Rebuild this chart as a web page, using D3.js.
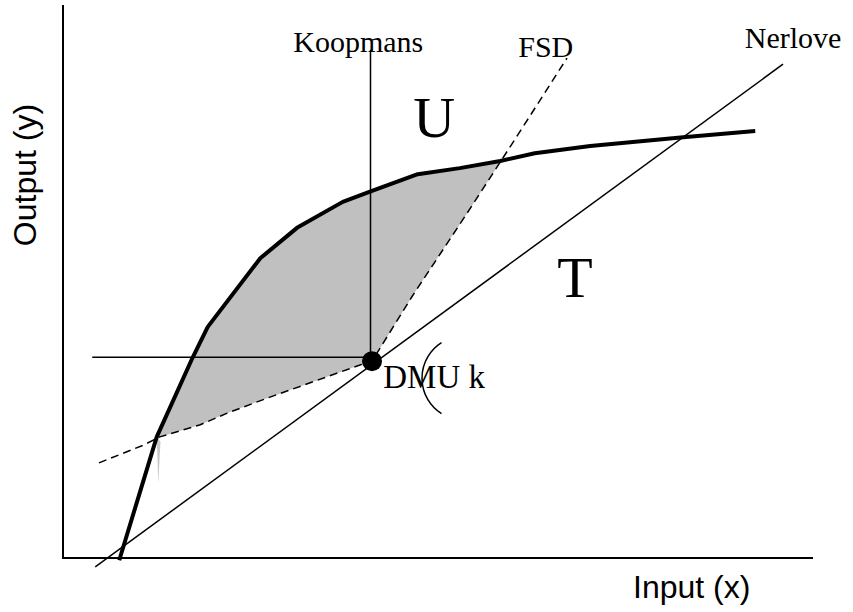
<!DOCTYPE html>
<html>
<head>
<meta charset="utf-8">
<script src="https://cdn.jsdelivr.net/npm/d3@7"></script>
<style>
  body { margin: 0; background: #fff; }
  svg { display: block; }
  .serif { font-family: "Liberation Serif", "Times New Roman", serif; fill: #000; }
  .sans { font-family: "Liberation Sans", Arial, sans-serif; fill: #000; }
</style>
</head>
<body>
<svg id="chart" width="853" height="612"></svg>
<script>
// production frontier (thick line), input x / output y in chart units
var frontier = [[7.5, -0.4], [12.5, 21.9], [17.3, 36.3], [19.3, 41.8], [26.3, 54.2],
	[31.2, 59.7], [37.3, 64.4], [41.2, 66.4], [47.3, 69.4], [52.9, 70.5],
	[58.3, 71.8], [62.9, 73.2], [70.3, 74.5], [82.7, 76.1], [92.3, 77.2]];

// FSD hull (dashed)
var fsd = [[4.8, 17.2], [10.7, 20.4], [12.9, 21.9], [18.3, 24.1], [21.9, 26.2],
	[27.2, 28.9], [39.6, 34.9], [41.2, 35.6], [46.5, 47.2], [53.9, 62.4],
	[58.3, 71.6], [61.3, 77.9], [67.2, 90.4]];

// Nerlove ray
var nerlove = [[4.3, -1.6], [96.0, 89.3]];

// Koopmans lines
var koopV = [[41.0, 35.6], [41.0, 91.9]];
var koopH = [[3.9, 36.3], [41.0, 36.3]];

var dmu = [41.2, 35.6];

// small gray sliver under the frontier
var sliver = [[12.5, 21.9], [12.7, 13.5], [13.0, 21.0]];

var labels = [
	{text: "Koopmans", x: 30.7, y: 91.5, size: 30},
	{text: "FSD", x: 60.7, y: 90.6, size: 30},
	{text: "Nerlove", x: 90.9, y: 92.2, size: 30},
	{text: "U", x: 46.7, y: 76.1, size: 58},
	{text: "T", x: 65.9, y: 47.2, size: 58},
	{text: "DMU k", x: 42.7, y: 30.7, size: 33}
];

var svg = d3.select("#chart");

var x = d3.scaleLinear().domain([0, 100]).range([63, 813]);
var y = d3.scaleLinear().domain([0, 100]).range([558, 5]);

var line = d3.line().x(d => x(d[0])).y(d => y(d[1]));

// shaded area between frontier and FSD
var shade = frontier.slice(1, 11).concat(fsd.slice(2, 11).reverse());
svg.append("path")
	.attr("d", line(shade) + "Z")
	.attr("fill", "#c0c0c0");
svg.append("path")
	.attr("d", line(sliver) + "Z")
	.attr("fill", "#c8c8c8");

// axes
svg.append("path").attr("d", line([[0, 100], [0, 0], [100, 0]]))
	.attr("fill", "none").attr("stroke", "#000").attr("stroke-width", 2);

// Nerlove
svg.append("path").attr("d", line(nerlove))
	.attr("fill", "none").attr("stroke", "#000").attr("stroke-width", 1.5);

// Koopmans
svg.append("path").attr("d", line(koopV))
	.attr("fill", "none").attr("stroke", "#000").attr("stroke-width", 1.5);
svg.append("path").attr("d", line(koopH))
	.attr("fill", "none").attr("stroke", "#000").attr("stroke-width", 1.5);

// FSD
svg.append("path").attr("d", line(fsd))
	.attr("fill", "none").attr("stroke", "#000").attr("stroke-width", 1.5)
	.attr("stroke-dasharray", "8,5");

// frontier
svg.append("path").attr("d", line(frontier))
	.attr("fill", "none").attr("stroke", "#000").attr("stroke-width", 4)
	.attr("stroke-linejoin", "round");

// DMU k point
svg.append("circle")
	.attr("cx", x(dmu[0])).attr("cy", y(dmu[1])).attr("r", 10)
	.attr("fill", "#000");

// bracket arc next to DMU k
var p = d3.path();
p.arc(x(dmu[0]) + 92, y(dmu[1]) + 17, 42, Math.PI * 0.68, Math.PI * 1.32);
svg.append("path").attr("d", p.toString())
	.attr("fill", "none").attr("stroke", "#000").attr("stroke-width", 1.5);

svg.selectAll("text.lbl")
	.data(labels)
	.enter().append("text")
	.attr("class", "lbl serif")
	.attr("x", d => x(d.x))
	.attr("y", d => y(d.y))
	.attr("font-size", d => d.size)
	.text(d => d.text);

// axis titles
svg.append("text").attr("class", "sans")
	.attr("x", 633).attr("y", 598)
	.attr("font-size", 32)
	.text("Input (x)");

svg.append("text").attr("class", "sans")
	.attr("transform", "translate(36,175) rotate(-90)")
	.attr("text-anchor", "middle")
	.attr("font-size", 32)
	.text("Output (y)");
</script>
</body>
</html>
